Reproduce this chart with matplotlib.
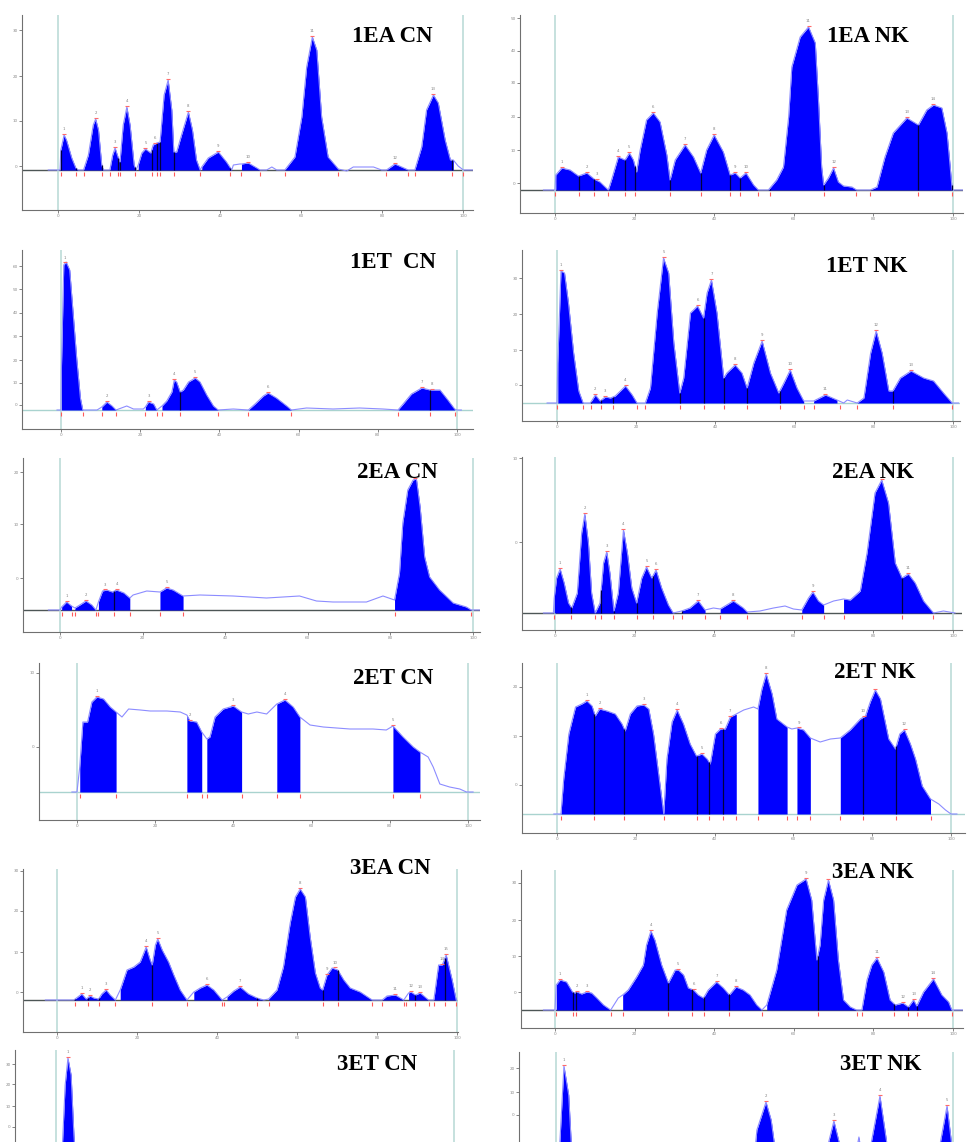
import numpy as np
import matplotlib.pyplot as plt

FIG_W, FIG_H = 969, 1142

# Lane profiles: (lane position in %, intensity above baseline)
ea1_cn_profile = [(-2.4, 0), (0.5, 0), (0.7, 20), (1.5, 35), (2.1, 30), (3.4, 12), (4.4, 2), (5.0, 0),
                  (6.3, 0), (7.5, 15), (8.7, 45), (9.3, 51), (10.0, 40), (10.8, 5), (11.2, 0),
                  (12.8, 0), (13.5, 15), (14.1, 22), (14.9, 12), (15.3, 8), (16.1, 45), (17.0, 63),
                  (17.8, 45), (18.8, 5), (19.3, 0), (19.8, 5), (20.7, 17), (21.6, 21), (22.9, 17),
                  (23.5, 25), (24.4, 27), (25.2, 28), (26.2, 75), (27.2, 90), (28.1, 60), (28.6, 18),
                  (29.3, 18), (30.5, 35), (32.2, 58), (33.2, 40), (34.2, 10), (35.1, 0), (35.5, 3),
                  (37.1, 12), (39.6, 18), (41.6, 8), (42.9, 0), (43.3, 5), (44.9, 6), (45.3, 6),
                  (47.0, 7), (49.1, 2), (49.9, 0), (51.5, 0), (52.8, 3), (54.0, 0), (56.0, 0),
                  (58.5, 13), (60.2, 53), (61.4, 103), (62.8, 133), (63.9, 120), (65.1, 53), (66.7, 13),
                  (69.2, 1), (71.3, -1), (72.9, 3), (77.9, 3), (79.9, 0), (81.1, 0), (83.2, 6),
                  (86.5, 0), (88.1, 0), (89.8, 23), (91.0, 60), (92.7, 75), (93.9, 67), (95.6, 30),
                  (96.9, 10), (97.6, 10), (98.8, 4), (100.1, 0), (102.5, 0)]
ea1_cn_bands = [(0.5, 5.0), (6.3, 11.2), (12.8, 19.3), (19.8, 35.1), (35.5, 42.9), (45.3, 49.9),
                (56.0, 69.2), (81.1, 86.5), (88.1, 97.6)]
ea1_cn_cuts = [0.7, 4.4, 6.3, 10.8, 12.8, 14.9, 15.3, 19.0, 23.1, 24.4, 25.2, 28.6, 35.1, 42.5,
               45.3, 49.9, 56.0, 69.2, 81.1, 86.5, 88.1, 97.2, 100.1]
ea1_cn_peaks = [1.5, 9.3, 14.1, 17.0, 21.6, 23.9, 27.2, 32.2, 39.6, 47.0, 62.8, 83.2, 92.7]

ea1_nk_profile = [(-2.9, 0), (0, 0), (0.2, 15), (1.7, 22), (3.8, 20), (5.9, 14), (8.0, 17), (9.8, 11),
                  (11.3, 8), (13.4, 0), (14.2, 10), (15.9, 33), (17.6, 30), (18.7, 37), (19.7, 30),
                  (20.5, 18), (21.4, 40), (23.0, 70), (24.7, 77), (26.4, 68), (28.1, 35), (28.9, 10),
                  (30.2, 30), (32.7, 45), (34.8, 33), (36.6, 17), (38.1, 40), (40.0, 55), (42.3, 38),
                  (44.0, 15), (45.3, 17), (46.5, 12), (48.0, 17), (49.9, 5), (51.1, 0), (53.6, 0),
                  (55.7, 10), (57.4, 23), (58.7, 73), (59.5, 123), (61.6, 153), (63.7, 163),
                  (65.4, 147), (66.2, 90), (67.0, 23), (67.5, 5), (68.7, 12), (70.0, 22), (71.2, 8),
                  (72.5, 4), (74.6, 3), (75.8, 0), (79.2, 0), (80.9, 3), (82.9, 33), (85.0, 57),
                  (88.4, 72), (91.3, 65), (93.4, 80), (95.1, 85), (97.2, 82), (98.5, 57), (99.3, 23),
                  (99.8, 0), (102.7, 0)]
ea1_nk_bands = [(0.2, 51.1), (53.6, 75.8), (79.2, 99.8)]
ea1_nk_cuts = [0, 6.1, 9.8, 13.4, 17.6, 20.1, 28.9, 36.6, 44.0, 46.5, 51.1, 53.9, 67.5, 75.7,
               79.2, 91.3, 99.7]
ea1_nk_peaks = [1.7, 8.0, 10.5, 15.9, 18.7, 24.7, 32.7, 40.0, 45.3, 48.0, 63.7, 70.0, 88.4, 95.1]

et1_cn_profile = [(-1.0, 0), (0, 0), (0.1, 40), (0.7, 145), (1.3, 148), (2.2, 140), (3.0, 100),
                  (4.0, 50), (4.9, 12), (5.5, 0), (9.1, 0), (10.3, 3), (11.6, 8), (12.9, 4),
                  (13.9, 0), (16.6, 4), (18.3, 1), (20.8, 1), (21.3, 3), (22.1, 8), (23.4, 6),
                  (24.2, 0), (25.5, 4), (26.7, 9), (28.0, 18), (28.6, 30), (29.2, 28), (30.1, 18),
                  (30.9, 20), (32.2, 28), (33.9, 32), (35.1, 28), (36.8, 15), (38.5, 4), (39.7, 0),
                  (43.5, 1), (47.3, 0), (49.0, 6), (51.1, 14), (52.3, 17), (54.4, 12), (57.0, 4),
                  (58.2, 0), (62.0, 2), (68.7, 1), (75.4, 2), (81.3, 1), (85.1, 0), (86.4, 6),
                  (88.5, 16), (91.1, 22), (93.2, 20), (95.7, 20), (97.7, 10), (99.4, 1), (100, 0),
                  (101.1, 0)]
et1_cn_bands = [(0.1, 5.5), (10.3, 13.9), (21.3, 24.2), (25.5, 39.7), (47.3, 58.2), (85.1, 99.4)]
et1_cn_cuts = [0, 5.5, 10.3, 13.9, 21.3, 24.2, 25.5, 30.1, 39.7, 47.3, 58.2, 85.1, 93.2, 99.4]
et1_cn_peaks = [1.0, 11.6, 22.1, 28.6, 33.9, 52.3, 91.1, 93.8]

et1_nk_profile = [(-2.5, 0), (0, 0), (0.2, 40), (1.0, 132), (1.9, 130), (2.9, 100), (4.2, 50),
                  (5.5, 12), (6.6, 0), (8.4, 0), (9.7, 8), (10.9, 2), (12.2, 6), (13.5, 5),
                  (14.7, 7), (17.3, 17), (19.0, 8), (20.2, 0), (22.3, 0), (23.6, 15), (25.3, 90),
                  (26.9, 145), (28.2, 130), (29.5, 60), (31.0, 10), (32.0, 25), (33.7, 90),
                  (35.5, 97), (37.0, 85), (37.9, 110), (39.0, 123), (40.4, 90), (42.1, 25),
                  (42.9, 30), (45.0, 38), (46.7, 30), (48.0, 15), (49.7, 40), (51.8, 62), (53.9, 30),
                  (56.0, 10), (57.3, 20), (58.9, 33), (60.6, 15), (62.3, 2), (64.8, 2), (67.8, 8),
                  (70.7, 3), (72.4, 0), (73.3, 3), (75.8, 0), (77.5, 5), (79.2, 50), (80.6, 72),
                  (82.1, 50), (83.8, 12), (84.8, 12), (86.7, 25), (89.4, 32), (92.6, 25), (95.1, 22),
                  (97.6, 10), (99.8, 0), (101.4, 0)]
et1_nk_bands = [(0.2, 6.6), (8.4, 20.2), (22.3, 62.3), (64.8, 70.7), (75.8, 99.8)]
et1_nk_cuts = [0, 6.6, 8.6, 11.1, 14.1, 20.2, 22.3, 31.0, 37.0, 42.1, 48.0, 56.2, 62.3, 64.8,
               71.5, 75.8, 84.8, 99.8]
et1_nk_peaks = [1.0, 9.7, 12.2, 17.3, 26.9, 35.5, 39.0, 45.0, 51.8, 58.9, 67.8, 80.6, 89.4]

ea2_cn_profile = [(-2.8, 0), (0, 0), (0.4, 3), (1.6, 8), (2.8, 4), (3.6, 2), (4.8, 5), (6.3, 9),
                  (7.7, 5), (8.7, 0), (9.3, 8), (10.3, 19), (11.3, 20), (12.7, 18), (13.7, 20),
                  (15.5, 17), (16.9, 12), (17.7, 15), (21.0, 19), (24.2, 18), (25.8, 22), (27.4, 20),
                  (29.8, 14), (33.9, 15), (41.9, 14), (50.0, 12), (58.0, 14), (62.1, 9), (66.1, 8),
                  (74.2, 8), (78.2, 14), (81.0, 10), (82.2, 37), (83.0, 87), (84.2, 120), (85.5, 130),
                  (86.3, 131), (87.2, 103), (88.3, 53), (89.5, 33), (91.9, 20), (95.2, 7), (98.4, 3),
                  (99.6, 0), (101.6, 0)]
ea2_cn_bands = [(0.4, 2.8), (3.6, 8.7), (9.3, 16.9), (24.2, 29.8), (81.0, 99.6)]
ea2_cn_cuts = [0.4, 2.8, 3.6, 8.7, 9.3, 13.1, 16.9, 24.2, 29.8, 81.0, 99.6]
ea2_cn_peaks = [1.6, 6.3, 10.8, 13.7, 25.8, 86.0]

ea2_nk_profile = [(-2.9, 0), (-0.4, 0), (-0.2, 15), (0.4, 35), (1.3, 44), (2.3, 30), (3.4, 10),
                  (4.2, 5), (5.6, 20), (6.7, 80), (7.5, 99), (8.4, 70), (9.2, 20), (10.1, 0),
                  (11.3, 10), (12.2, 50), (13.0, 61), (13.8, 40), (14.8, 2), (15.9, 20), (17.2, 83),
                  (18.2, 60), (19.3, 25), (20.5, 10), (21.8, 35), (23.0, 46), (24.3, 35), (25.4, 43),
                  (26.8, 25), (28.5, 8), (29.7, 0), (31.8, 2), (33.9, 5), (36.0, 12), (37.7, 3),
                  (39.8, 5), (41.5, 4), (44.8, 12), (47.3, 5), (48.3, 1), (51.5, 2), (54.9, 5),
                  (57.8, 7), (59.9, 4), (62.0, 3), (63.7, 15), (64.8, 21), (66.2, 12), (67.5, 8),
                  (70.0, 12), (72.5, 14), (74.2, 13), (76.7, 22), (78.4, 60), (80.4, 120),
                  (82.1, 133), (83.8, 110), (85.5, 50), (87.2, 35), (88.8, 39), (90.5, 30),
                  (92.6, 12), (95.1, 0), (97.6, 2), (100.5, 0)]
ea2_nk_bands = [(-0.2, 29.7), (31.8, 37.7), (41.5, 48.3), (62.0, 67.5), (72.5, 95.1)]
ea2_nk_cuts = [-0.2, 4.0, 10.1, 11.6, 14.8, 20.5, 24.6, 29.7, 32.0, 37.7, 41.5, 48.3, 62.0,
               67.5, 72.5, 87.2, 95.1]
ea2_nk_peaks = [1.3, 7.5, 13.0, 17.2, 23.0, 25.4, 36.0, 44.8, 64.8, 82.1, 88.8]

et2_cn_profile = [(-1.3, 0), (0, 0), (0.7, 25), (1.5, 70), (2.7, 70), (3.8, 90), (5.1, 95),
                  (6.8, 93), (8.5, 85), (10.0, 80), (11.5, 75), (13.2, 83), (16.2, 82), (18.7, 81),
                  (23.0, 81), (26.4, 80), (28.1, 77), (28.9, 71), (30.6, 70), (31.9, 60), (33.2, 53),
                  (34.0, 55), (35.3, 75), (37.4, 83), (40.0, 86), (42.1, 80), (43.8, 78), (46.0, 80),
                  (48.5, 78), (51.1, 88), (53.2, 92), (55.3, 85), (57.0, 75), (59.6, 67), (63.0, 65),
                  (69.8, 63), (75.7, 63), (79.1, 62), (80.8, 66), (83.4, 55), (86.0, 45), (87.7, 40),
                  (89.8, 35), (91.1, 25), (92.8, 8), (95.3, 5), (97.9, 3), (99.6, 0), (101.3, 0)]
et2_cn_bands = [(0.7, 10.0), (28.1, 31.9), (33.2, 42.1), (51.1, 57.0), (80.8, 87.7)]
et2_cn_cuts = [0.7, 10.0, 28.1, 31.9, 33.2, 42.1, 51.1, 57.0, 80.8, 87.7]
et2_cn_peaks = [5.1, 28.9, 40.0, 53.2, 80.8]

et2_nk_profile = [(-0.8, 0), (1.0, 0), (1.7, 35), (3.0, 80), (4.7, 107), (6.3, 110), (7.6, 113),
                  (8.9, 108), (9.7, 98), (10.8, 105), (12.7, 103), (14.8, 100), (16.5, 90),
                  (17.3, 83), (18.6, 100), (20.3, 108), (22.0, 109), (23.3, 105), (24.5, 80),
                  (25.8, 40), (27.1, 0), (27.9, 55), (29.2, 92), (30.5, 104), (32.1, 90), (33.8, 70),
                  (35.4, 58), (36.8, 60), (38.1, 55), (38.9, 50), (40.2, 80), (41.5, 85), (42.7, 85),
                  (44.0, 97), (45.5, 100), (47.4, 104), (49.9, 107), (51.0, 105), (52.0, 125),
                  (53.1, 140), (54.6, 120), (55.8, 95), (58.4, 87), (59.6, 85), (60.9, 86),
                  (62.6, 84), (64.3, 76), (66.8, 72), (69.4, 75), (71.9, 76), (74.4, 84), (77.0, 95),
                  (78.3, 98), (79.5, 112), (80.8, 124), (82.1, 115), (84.2, 75), (85.9, 65),
                  (87.0, 80), (88.2, 84), (89.7, 70), (91.0, 55), (92.7, 28), (94.8, 15), (96.9, 10),
                  (98.6, 4), (100, 0), (101.5, 0)]
et2_nk_bands = [(1.0, 45.5), (51.0, 58.4), (60.9, 64.3), (71.9, 94.8)]
et2_nk_cuts = [1.0, 9.5, 17.1, 27.1, 35.6, 38.5, 42.1, 45.5, 51.0, 58.4, 60.9, 64.3, 71.9, 77.6,
               86.1, 94.8]
et2_nk_peaks = [7.6, 10.8, 22.0, 30.5, 36.8, 41.5, 44.0, 53.1, 61.5, 77.8, 80.8, 88.2]

ea3_cn_profile = [(-2.9, 0), (0, 0), (4.2, 0), (5.2, 3), (6.2, 6), (7.3, 1), (8.3, 4), (9.2, 2),
                  (10.4, 1), (11.2, 6), (12.3, 10), (13.3, 5), (14.6, 0), (15.8, 10), (17.5, 30),
                  (19.2, 33), (20.8, 38), (22.3, 53), (23.3, 40), (23.8, 35), (24.6, 55), (25.2, 61),
                  (26.3, 50), (27.9, 38), (29.2, 25), (30.8, 10), (32.5, 0), (34.2, 8), (35.8, 12),
                  (37.5, 15), (39.2, 10), (41.3, 0), (42.5, 3), (44.2, 9), (45.8, 13), (47.9, 6),
                  (50.0, 2), (51.7, 0), (52.9, 1), (55.0, 10), (56.6, 33), (58.3, 77), (59.6, 103),
                  (60.8, 111), (62.1, 103), (63.3, 63), (64.6, 27), (65.8, 12), (66.4, 10),
                  (67.5, 25), (68.8, 32), (70.2, 30), (71.7, 20), (73.3, 12), (75.8, 8), (78.8, 0),
                  (81.3, 0), (82.5, 4), (84.6, 5), (86.7, 0), (87.9, 7), (88.5, 8), (89.6, 5),
                  (90.8, 7), (92.9, 0), (94.2, 0), (95.4, 35), (96.3, 35), (97.3, 45), (98.8, 20),
                  (99.8, 0)]
ea3_cn_bands = [(4.2, 14.6), (15.8, 32.5), (34.2, 41.3), (42.5, 51.7), (52.9, 78.8), (81.3, 86.7),
                (87.9, 92.9), (94.2, 99.8)]
ea3_cn_cuts = [4.6, 7.7, 10.6, 14.6, 23.8, 32.5, 41.3, 41.8, 50.0, 52.9, 66.4, 70.2, 78.8, 81.3,
               86.7, 87.2, 89.6, 92.9, 94.2, 97.0, 99.8]
ea3_cn_peaks = [6.2, 8.3, 12.3, 22.3, 25.2, 37.5, 45.8, 60.8, 67.5, 69.4, 84.6, 88.5, 90.8, 96.3, 97.3]

ea3_nk_profile = [(-2.9, 0), (0, 0), (0.3, 25), (1.3, 30), (2.9, 28), (4.4, 18), (5.0, 17),
                  (5.6, 18), (6.7, 16), (8.0, 18), (9.2, 17), (10.5, 12), (12.2, 5), (14.0, 0),
                  (15.9, 12), (17.0, 15), (18.4, 20), (20.5, 33), (22.2, 45), (23.0, 65), (24.1, 79),
                  (25.1, 70), (26.8, 45), (28.5, 27), (30.2, 40), (31.0, 40), (32.3, 35), (33.5, 22),
                  (34.8, 20), (36.0, 15), (37.3, 12), (38.5, 20), (40.6, 28), (42.3, 22), (43.8, 15),
                  (45.5, 23), (47.3, 20), (49.0, 15), (50.7, 5), (52.0, 0), (53.2, 5), (55.7, 40),
                  (58.2, 100), (60.8, 125), (63.1, 131), (64.5, 110), (65.8, 50), (66.6, 65),
                  (67.5, 110), (68.7, 130), (70.0, 110), (71.2, 50), (72.5, 10), (74.2, 3),
                  (75.8, 0), (77.1, 0), (78.4, 30), (79.6, 45), (80.9, 52), (82.6, 38), (84.2, 10),
                  (85.5, 5), (87.4, 7), (88.8, 3), (90.1, 10), (90.9, 4), (92.6, 18), (95.1, 31),
                  (97.2, 15), (98.9, 8), (99.7, 0), (102.5, 0)]
ea3_nk_bands = [(0.3, 14.0), (17.0, 52.0), (53.2, 75.8), (77.1, 99.7)]
ea3_nk_cuts = [0.3, 4.6, 5.4, 14.0, 17.0, 28.5, 34.3, 37.4, 43.6, 52.0, 66.0, 75.8, 77.1, 85.3,
               88.7, 90.9, 99.7]
ea3_nk_peaks = [1.3, 5.6, 8.0, 24.1, 31.0, 34.8, 40.6, 45.5, 63.1, 68.7, 80.9, 87.4, 90.1, 95.1]

et3_cn_profile = [(-1.5, 0), (0, 0), (1.5, 60), (2.3, 130), (3.0, 157), (3.8, 140), (4.5, 80),
                  (5.5, 20), (7.0, 0), (20.0, 2), (40.0, 1), (60.0, 2), (80.0, 1), (100.0, 0)]
et3_cn_bands = [(0, 7.0)]
et3_cn_cuts = [0, 7.0]
et3_cn_peaks = [3.0]

et3_nk_profile = [(-1.5, 0), (0, 0), (0.8, 60), (2.0, 149), (3.2, 120), (4.0, 60), (5.5, 10),
                  (7.0, 0), (47.0, 3), (49.5, 40), (50.6, 85), (52.9, 113), (54.2, 95), (55.4, 60),
                  (57.0, 10), (66.0, 5), (68.5, 70), (70.0, 94), (71.5, 70), (73.0, 30), (74.5, 40),
                  (76.3, 78), (77.8, 40), (79.3, 70), (81.6, 119), (83.4, 70), (85.0, 20),
                  (90.0, 10), (94.5, 30), (96.7, 70), (98.5, 109), (100.0, 60), (100.8, 0)]
et3_nk_bands = [(0, 7.0), (47.0, 100.8)]
et3_nk_cuts = [0, 7.0, 47.0, 57.0, 66.0, 73.0, 77.8, 85.0, 90.0, 100.8]
et3_nk_peaks = [2.0, 52.9, 70.0, 81.6, 98.5]

titles = ["1EA CN", "1EA NK", "1ET  CN", "1ET NK", "2EA CN", "2EA NK",
          "2ET CN", "2ET NK", "3EA CN", "3EA NK", "3ET CN", "3ET NK"]
lane_ticks = [0, 20, 40, 60, 80, 100]

# panel frames in reference pixels:
# left spine, right end, top, bottom spine, lane start, lane end, baseline row,
# title centre (x, y), rows of the y ticks
frames = [
    (22, 473, 15, 210, 58, 463, 170, 392, 37, [30, 76, 121, 166]),
    (520, 963, 15, 213, 555, 953, 190, 868, 37, [18, 51, 83, 117, 150, 183]),
    (22, 473, 250, 429, 61, 457, 410, 393, 262, [266, 289, 313, 336, 360, 383, 405]),
    (522, 960, 250, 421, 557, 953, 403, 867, 266, [278, 314, 350, 385]),
    (23, 480, 458, 632, 60, 473, 610, 397, 472, [472, 524, 578]),
    (522, 962, 457, 630, 555, 953, 613, 873, 472, [458, 542]),
    (39, 480, 663, 820, 77, 468, 792, 393, 678, [673, 747]),
    (522, 965, 663, 833, 557, 951, 814, 875, 672, [687, 736, 785]),
    (23, 458, 869, 1032, 57, 457, 1000, 390, 868, [871, 911, 952, 992]),
    (521, 963, 870, 1028, 555, 953, 1010, 873, 872, [883, 920, 956, 992]),
    (15, 470, 1050, 1240, 56, 454, 1215, 377, 1064, [1064, 1084, 1106, 1127]),
    (519, 963, 1052, 1240, 556, 953, 1215, 881, 1064, [1068, 1092, 1115, 1139]),
]

panel_data = [
    (ea1_cn_profile, ea1_cn_bands, ea1_cn_cuts, ea1_cn_peaks),
    (ea1_nk_profile, ea1_nk_bands, ea1_nk_cuts, ea1_nk_peaks),
    (et1_cn_profile, et1_cn_bands, et1_cn_cuts, et1_cn_peaks),
    (et1_nk_profile, et1_nk_bands, et1_nk_cuts, et1_nk_peaks),
    (ea2_cn_profile, ea2_cn_bands, ea2_cn_cuts, ea2_cn_peaks),
    (ea2_nk_profile, ea2_nk_bands, ea2_nk_cuts, ea2_nk_peaks),
    (et2_cn_profile, et2_cn_bands, et2_cn_cuts, et2_cn_peaks),
    (et2_nk_profile, et2_nk_bands, et2_nk_cuts, et2_nk_peaks),
    (ea3_cn_profile, ea3_cn_bands, ea3_cn_cuts, ea3_cn_peaks),
    (ea3_nk_profile, ea3_nk_bands, ea3_nk_cuts, ea3_nk_peaks),
    (et3_cn_profile, et3_cn_bands, et3_cn_cuts, et3_cn_peaks),
    (et3_nk_profile, et3_nk_bands, et3_nk_cuts, et3_nk_peaks),
]

FILL = "#0000ff"
TRACE = "#8c8cff"
LANE = "#bcdcd8"
AXIS = "#707070"


def draw_panel(fig, frame, title, profile, bands, cuts, peaks):
    L, R, top, bot, a, b, base, tx, ty, yrows = frame
    ax = fig.add_axes([L / FIG_W, 1 - bot / FIG_H, (R - L) / FIG_W, (bot - top) / FIG_H])
    span = b - a
    ax.set_xlim((L - a) / span * 100, (R - a) / span * 100)
    ax.set_ylim(base - bot, base - top)

    pos, inten = np.array(profile, dtype=float).T

    # EA scans have a dark baseline, ET scans a pale one
    base_col = "#4d5656" if "EA" in title else "#a9d3cf"
    ax.axhline(0, color=base_col, lw=1.0, zorder=1)
    for v in (0, 100):
        ax.axvline(v, color=LANE, lw=1.2, zorder=1)

    for s, e in bands:
        m = (pos >= s - 1e-6) & (pos <= e + 1e-6)
        ax.fill_between(pos[m], 0, inten[m], color=FILL, lw=0, zorder=2)
    ax.plot(pos, inten, color=TRACE, lw=0.8, zorder=3)

    # dark separators where one band is split into peaks
    inner = [c for c in cuts if any(s < c < e for s, e in bands)]
    if inner:
        ax.vlines(inner, 0, np.interp(inner, pos, inten), color="#000040", lw=0.9, zorder=4)
    ax.vlines(cuts, -1.5, -5.5, color="#ff5a5a", lw=0.8, zorder=4)

    ph = np.interp(peaks, pos, inten)
    ax.plot(peaks, ph + 1.5, ls="none", marker="_", ms=3, mew=0.8, color="#ff6a6a", zorder=5)
    for i, (p, h) in enumerate(zip(peaks, ph), 1):
        # peak numbers hidden behind the sample title are left out, as in the scans
        px = a + p / 100 * span
        py = base - h - 6
        if abs(px - tx) < 50 and abs(py - ty) < 14:
            continue
        if py > FIG_H - 6:
            continue
        ax.text(p, h + 4, str(i), fontsize=2.8, color="#808080", ha="center", va="bottom", zorder=5)

    for side in ("top", "right"):
        ax.spines[side].set_visible(False)
    for side in ("left", "bottom"):
        ax.spines[side].set_color(AXIS)
        ax.spines[side].set_linewidth(0.8)
    ax.set_xticks(lane_ticks)
    rows = [r for r in yrows if r < FIG_H - 4]
    ax.set_yticks([base - r for r in rows])
    ax.set_yticklabels([str(10 * i) for i in range(len(rows))][::-1])
    ax.tick_params(axis="both", length=2, width=0.6, color=AXIS, labelsize=3, labelcolor="#8a8a8a", pad=1)
    if bot > FIG_H:
        ax.tick_params(axis="x", labelbottom=False)
    ax.set_facecolor("none")

    fig.text(tx / FIG_W, 1 - ty / FIG_H, title, fontsize=16.5, family="Liberation Serif",
             weight="bold", ha="center", va="center", color="black", zorder=10)


def main():
    fig = plt.figure(figsize=(FIG_W / 100, FIG_H / 100), dpi=100)
    fig.patch.set_facecolor("white")
    for frame, title, data in zip(frames, titles, panel_data):
        draw_panel(fig, frame, title, *data)
    fig.savefig("out.png", dpi=100)
    plt.close(fig)


if __name__ == "__main__":
    main()
